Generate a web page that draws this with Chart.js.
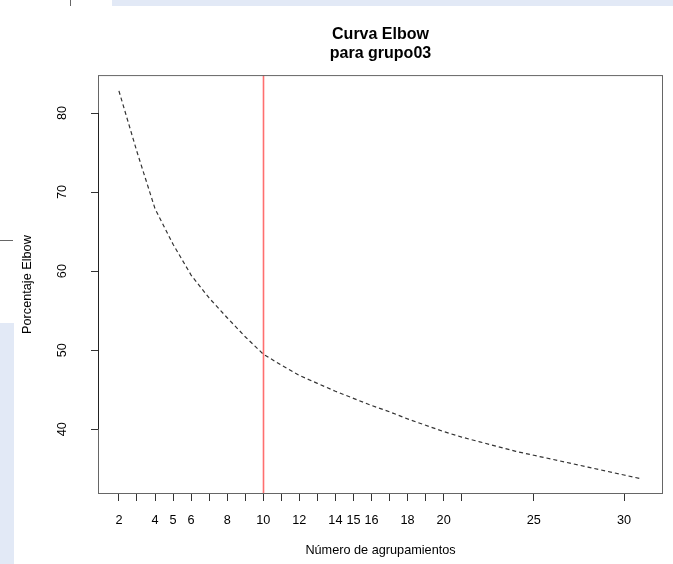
<!DOCTYPE html>
<html>
<head>
<meta charset="utf-8">
<script src="https://cdn.jsdelivr.net/npm/chart.js@4.4.0/dist/chart.umd.min.js"></script>
<style>
html, body { margin:0; padding:0; background:#fff; }
#wrap { position:relative; width:673px; height:564px; }
#myChart { position:absolute; left:0; top:0; }
.band { position:absolute; background:#e2e9f6; }
.mark { position:absolute; background:#666; }
</style>
</head>
<body>
<div id="wrap">
	<div class="band" style="left:112px;top:0;width:561px;height:6px"></div>
	<div class="band" style="left:0;top:323px;width:14px;height:241px"></div>
	<div class="mark" style="left:70px;top:0;width:1px;height:6px"></div>
	<div class="mark" style="left:0;top:240px;width:13px;height:1px"></div>
	<canvas id="myChart" width="673" height="564"></canvas>
</div>
<script>
// numero de grupos (k) y porcentaje elbow
const clusters = [2, 3, 4, 5, 6, 7, 8, 9, 10, 11, 12, 13, 14, 15, 16, 17, 18, 19, 20, 21, 22, 23, 24, 25, 26, 27, 28, 29, 30, 31];
const elbowPct = [82.8, 75.1, 67.9, 63.4, 59.5, 56.6, 54.1, 51.7, 49.5, 48.1, 46.8, 45.8, 44.8, 43.9, 43.0,
	42.2, 41.3, 40.5, 39.7, 39.0, 38.4, 37.8, 37.2, 36.7, 36.2, 35.7, 35.2, 34.7, 34.2, 33.7];
const xTickMarks = [2, 3, 4, 5, 6, 7, 8, 9, 10, 11, 12, 13, 14, 15, 16, 17, 18, 19, 20, 21, 25, 30];
const xTickLabels = [2, 4, 5, 6, 8, 10, 12, 14, 15, 16, 18, 20, 25, 30];
const yTicks = [40, 50, 60, 70, 80];
const elbowK = 10;

const fontFam = "'Liberation Sans', Arial, Helvetica, sans-serif";

// caja del grafico, eje y y linea vertical del codo (abline)
const rBox = {
	id: 'rBox',
	afterDatasetsDraw(chart) {
		const ctx = chart.ctx;
		const a = chart.chartArea;
		const x = chart.scales.x, y = chart.scales.y;
		ctx.save();
		const px = Math.round(x.getPixelForValue(elbowK)) + 0.5;
		ctx.strokeStyle = 'rgba(255,50,50,0.7)';
		ctx.lineWidth = 1.6;
		ctx.beginPath(); ctx.moveTo(px, a.top); ctx.lineTo(px, a.bottom); ctx.stroke();
		ctx.strokeStyle = '#666';
		ctx.lineWidth = 1;
		ctx.strokeRect(a.left + 0.5, a.top + 0.5, a.width - 1, a.height - 1);
		ctx.strokeStyle = '#222';
		ctx.beginPath();
		ctx.moveTo(a.left + 0.5, y.getPixelForValue(yTicks[0]));
		ctx.lineTo(a.left + 0.5, y.getPixelForValue(yTicks[yTicks.length - 1]));
		ctx.stroke();
		ctx.restore();
	}
};

window.onload = function() {
	var ctx = document.getElementById('myChart').getContext('2d');
	var myChart = new Chart(ctx, {
		type: 'line',
		data: {
			datasets: [{
				label: 'Elbow',
				data: clusters.map((k, i) => ({x: k, y: elbowPct[i]})),
				borderColor: '#333',
				borderWidth: 1.2,
				borderDash: [4, 3],
				pointRadius: 0,
				fill: false,
				tension: 0
			}]
		},
		options: {
			responsive: false,
			animation: false,
			layout: {padding: {left: 0, right: 10, top: 0, bottom: 0}},
			plugins: {
				legend: {display: false},
				tooltip: {enabled: false},
				title: {
					display: true,
					text: ['Curva Elbow', 'para grupo03'],
					fullSize: false,
					color: '#000',
					font: {family: fontFam, size: 16, weight: 'bold', lineHeight: 1.19},
					padding: {top: 25, bottom: 12}
				}
			},
			scales: {
				x: {
					type: 'linear',
					min: 0.84,
					max: 32.16,
					afterBuildTicks: s => { s.ticks = xTickMarks.map(v => ({value: v})); },
					afterFit: s => { s.height = 70; },
					grid: {drawOnChartArea: false, drawTicks: true, tickLength: 7, tickColor: '#333'},
					border: {display: false},
					ticks: {
						autoSkip: false, maxRotation: 0, minRotation: 0, padding: 12, color: '#000',
						font: {family: fontFam, size: 12.7},
						callback: v => xTickLabels.includes(v) ? String(v) : ''
					},
					title: {
						display: true, text: 'Número de agrupamientos', color: '#000',
						font: {family: fontFam, size: 12.7}, padding: {top: 0, bottom: 6}
					}
				},
				y: {
					type: 'linear',
					min: 31.8,
					max: 84.8,
					afterBuildTicks: s => { s.ticks = yTicks.map(v => ({value: v})); },
					afterFit: s => { s.width = 98; },
					grid: {drawOnChartArea: false, drawTicks: true, tickLength: 7, tickColor: '#333'},
					border: {display: false},
					ticks: {
						minRotation: 90, maxRotation: 90, crossAlign: 'center', padding: 21, color: '#000',
						font: {family: fontFam, size: 12.7}
					},
					title: {
						display: true, text: 'Porcentaje Elbow', color: '#000',
						font: {family: fontFam, size: 12.7}, padding: {top: 20, bottom: 0}
					}
				}
			}
		},
		plugins: [rBox]
	});
}
</script>
</body>
</html>
